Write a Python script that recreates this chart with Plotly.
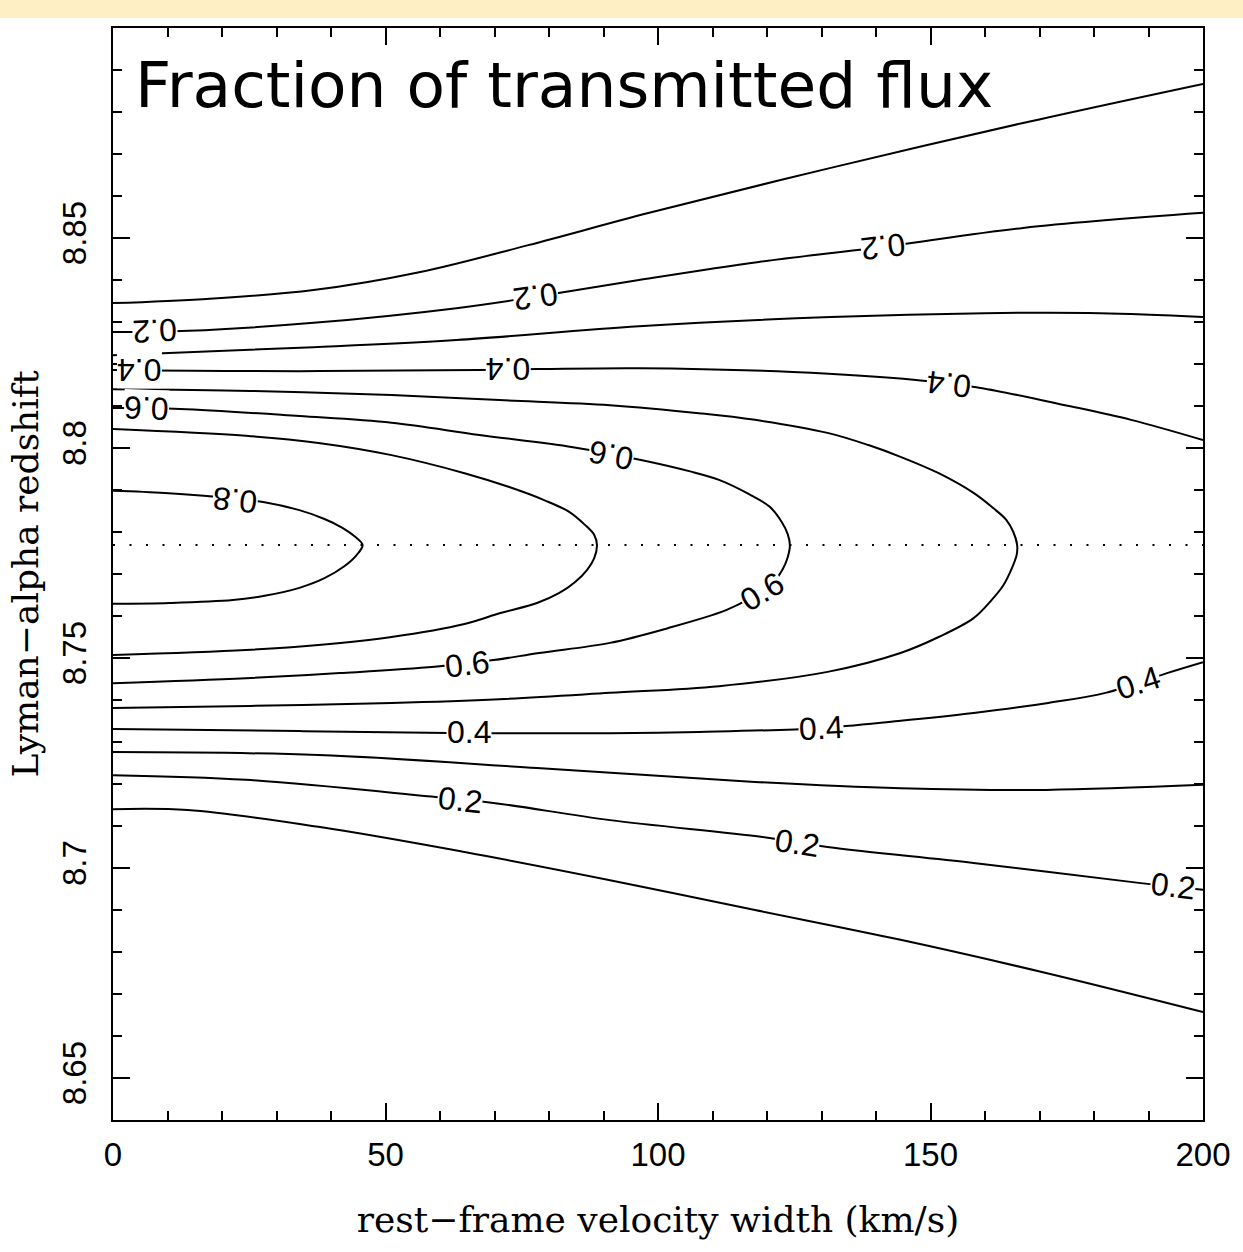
import plotly.graph_objects as go

# Contour levels of the transmitted-flux fraction
levels = [0.1, 0.2, 0.3, 0.4, 0.5, 0.6, 0.7, 0.8]

# Each contour: rest-frame velocity width (km/s) and Lyman-alpha redshift
v_01_top = [0, 17.2, 36.8, 56.4, 76.2, 98.4, 131.7, 167.0, 200]
z_01_top = [8.8345, 8.8355, 8.8376, 8.8419, 8.8483, 8.8560, 8.8667, 8.8774, 8.8867]

v_02_top = [0, 13.9, 36.8, 63.0, 77.5, 96.5, 118.5, 141.4, 167.0, 200]
z_02_top = [8.8276, 8.8279, 8.8298, 8.8333, 8.8360, 8.8400, 8.8443, 8.8479, 8.8524, 8.8560]

v_03_top = [0, 36.8, 63.0, 96.5, 131.7, 159.9, 181.1, 200]
z_03_top = [8.8221, 8.8240, 8.8257, 8.8290, 8.8312, 8.8321, 8.8321, 8.8312]

v_04_top = [0, 34.2, 67.0, 96.5, 124.7, 147.3, 153.3, 159.2, 174.7, 186.8, 200]
z_04_top = [8.8186, 8.8183, 8.8186, 8.8190, 8.8181, 8.8162, 8.8152, 8.8143, 8.8102, 8.8067, 8.8019]

v_05_loop = [0, 25.1, 51.1, 70.9, 91.2, 107.5, 117.8, 131.1, 138.6, 144.5, 151.5, 157.9,
             161.5, 163.9, 165.2, 165.9, 165.8, 164.8, 163.4, 161.2, 157.9, 151.5, 144.5,
             131.1, 111.2, 91.2, 70.9, 51.1, 25.1, 0]
z_05_loop = [8.8140, 8.8136, 8.8126, 8.8114, 8.8102, 8.8083, 8.8067, 8.8036, 8.8007, 8.7979,
             8.7940, 8.7893, 8.7857, 8.7829, 8.7800, 8.7769, 8.7745, 8.7710, 8.7674, 8.7638,
             8.7595, 8.7550, 8.7512, 8.7467, 8.7433, 8.7417, 8.7402, 8.7393, 8.7386, 8.7381]

v_06_loop = [0, 12.3, 34.2, 51.1, 67.2, 84.4, 97.1, 105.7, 111.2, 116.7, 120.5, 122.7,
             123.8, 124.2, 123.8, 122.9, 121.2, 117.0, 112.5, 101.8, 91.2, 78.2, 69.8,
             59.0, 41.6, 24.4, 0]
z_06_loop = [8.8095, 8.8093, 8.8076, 8.8060, 8.8031, 8.8002, 8.7971, 8.7945, 8.7924, 8.7890,
             8.7860, 8.7824, 8.7795, 8.7769, 8.7740, 8.7712, 8.7681, 8.7643, 8.7614, 8.7571,
             8.7536, 8.7512, 8.7495, 8.7479, 8.7464, 8.7452, 8.7440]

v_07_loop = [0, 24.4, 37.7, 51.1, 64.5, 72.7, 79.1, 83.7, 86.6, 88.3, 88.8,
             88.3, 87.0, 84.8, 81.9, 77.8, 71.1, 64.5, 51.1, 37.7, 24.4, 0]
z_07_loop = [8.8045, 8.8029, 8.8012, 8.7983, 8.7940, 8.7907, 8.7876, 8.7848, 8.7817, 8.7793,
             8.7769, 8.7738, 8.7710, 8.7681, 8.7655, 8.7631, 8.7607, 8.7581, 8.7550, 8.7531,
             8.7519, 8.7507]

v_08_loop = [0, 9.5, 17.2, 27.8, 34.2, 38.8, 42.1, 44.5, 45.8,
             44.7, 42.5, 38.8, 34.2, 27.8, 22.0, 10.4, 0]
z_08_loop = [8.7898, 8.7893, 8.7886, 8.7871, 8.7852, 8.7831, 8.7810, 8.7788, 8.7769,
             8.7745, 8.7719, 8.7690, 8.7667, 8.7648, 8.7638, 8.7631, 8.7629]

v_04_bot = [0, 34.2, 65.4, 91.2, 107.5, 129.5, 144.1, 157.9, 171.6, 182.1, 193.4, 200]
z_04_bot = [8.7331, 8.7326, 8.7321, 8.7321, 8.7324, 8.7333, 8.7350, 8.7369, 8.7393, 8.7417, 8.7464, 8.7490]

v_03_bot = [0, 37.7, 77.8, 117.8, 144.5, 171.2, 200]
z_03_bot = [8.7276, 8.7269, 8.7238, 8.7205, 8.7190, 8.7186, 8.7198]

v_02_bot = [0, 24.4, 57.7, 69.8, 91.2, 119.2, 131.1, 157.9, 188.6, 200]
z_02_bot = [8.7221, 8.7210, 8.7171, 8.7155, 8.7114, 8.7074, 8.7050, 8.7012, 8.6964, 8.6948]

v_01_bot = [0, 13.7, 37.7, 64.5, 91.2, 117.8, 144.5, 171.2, 200]
z_01_bot = [8.7140, 8.7138, 8.7098, 8.7038, 8.6971, 8.6900, 8.6829, 8.6750, 8.6657]

# Redshift of the line centre (dotted reference line)
z_centre = 8.7769

# Inline contour labels: level, velocity, redshift, rotation
label_level = [0.2, 0.2, 0.2, 0.4, 0.4, 0.4, 0.6, 0.6, 0.8,
               0.6, 0.6, 0.4, 0.4, 0.4, 0.2, 0.2, 0.2]
label_v = [7.7, 77.5, 141.4, 4.9, 72.5, 153.5, 6.2, 91.4, 22.5,
           119.0, 65.0, 65.4, 129.9, 188.1, 63.7, 125.5, 194.5]
label_z = [8.8279, 8.8360, 8.8479, 8.8186, 8.8188, 8.8152, 8.8095, 8.7983, 8.7876,
           8.7657, 8.7486, 8.7324, 8.7333, 8.7440, 8.7162, 8.7060, 8.6957]
label_rot = [177, 172, 173, 180, 180, 187, 182, 191, 186,
             -31, -7, 0, -3, -18, 6, 9, 7]

x_ticks = [0, 50, 100, 150, 200]
y_ticks = [8.65, 8.7, 8.75, 8.8, 8.85]
y_ticktext = ["8.65", "8.7", "8.75", "8.8", "8.85"]

contours = [
    (v_01_top, z_01_top), (v_02_top, z_02_top), (v_03_top, z_03_top),
    (v_04_top, z_04_top), (v_05_loop, z_05_loop), (v_06_loop, z_06_loop),
    (v_07_loop, z_07_loop), (v_08_loop, z_08_loop), (v_04_bot, z_04_bot),
    (v_03_bot, z_03_bot), (v_02_bot, z_02_bot), (v_01_bot, z_01_bot),
]

fig = go.Figure()

fig.add_trace(go.Scatter(
    x=[0, 200], y=[z_centre, z_centre], mode="lines",
    line=dict(color="black", width=2, dash="2px,14.5px"),
    hoverinfo="skip", showlegend=False,
))

for vx, zy in contours:
    fig.add_trace(go.Scatter(
        x=vx, y=zy, mode="lines",
        line=dict(color="black", width=2, shape="spline", smoothing=1.0),
        showlegend=False,
    ))

annotations = []
for lev, lv, lz, rot in zip(label_level, label_v, label_z, label_rot):
    annotations.append(dict(
        x=lv, y=lz, xref="x", yref="y", text=f"{lev:.1f}",
        showarrow=False, textangle=rot, bgcolor="white", borderpad=0,
        font=dict(family="Liberation Sans, Arial, sans-serif", size=32, color="black"),
    ))

annotations.append(dict(
    x=0.018, y=0.947, xref="paper", yref="paper", xanchor="left", yanchor="middle",
    text="Fraction of transmitted flux", showarrow=False,
    font=dict(family="DejaVu Sans, sans-serif", size=63, color="black"),
))

tick_font = dict(family="Liberation Sans, Arial, sans-serif", size=33, color="black")
title_font = dict(family="DejaVu Serif, serif", size=36, color="black")

fig.update_layout(
    width=1243, height=1252, autosize=False,
    margin=dict(l=113, r=38, t=28, b=132),
    paper_bgcolor="white", plot_bgcolor="white",
    annotations=annotations,
    shapes=[dict(type="rect", xref="paper", yref="paper", x0=-0.2, x1=1.2,
                 y0=1.0092, y1=1.03, line=dict(width=0), fillcolor="#FFEFC4",
                 layer="below")],
    xaxis=dict(
        range=[0, 200], tickvals=x_ticks, ticks="inside", ticklen=17, tickwidth=1.5,
        tickcolor="black", showline=True, linewidth=2, linecolor="black",
        mirror="ticks", showgrid=False, zeroline=False, tickfont=tick_font,
        ticklabelstandoff=4,
        minor=dict(dtick=10, tick0=0, ticks="inside", ticklen=9, tickwidth=1.5,
                   tickcolor="black", showgrid=False),
        title=dict(text="rest\u2212frame velocity width (km/s)", font=title_font, standoff=35),
    ),
    yaxis=dict(
        range=[8.64, 8.90], tickvals=y_ticks, ticktext=y_ticktext, tickangle=-90,
        ticks="inside", ticklen=17, tickwidth=1.5, tickcolor="black",
        showline=True, linewidth=2, linecolor="black", mirror="ticks",
        showgrid=False, zeroline=False, tickfont=tick_font, ticklabelstandoff=12,
        minor=dict(dtick=0.01, tick0=8.64, ticks="inside", ticklen=9, tickwidth=1.5,
                   tickcolor="black", showgrid=False),
        title=dict(text="Lyman\u2212alpha redshift", font=title_font, standoff=6),
    ),
)

fig.write_html("out.html")
